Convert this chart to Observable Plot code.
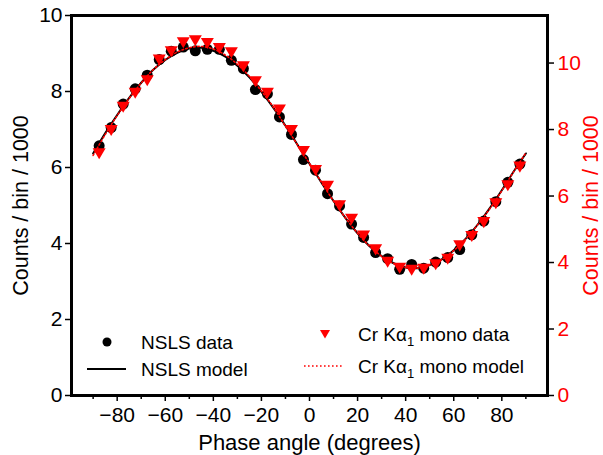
<!DOCTYPE html>
<html><head><meta charset="utf-8">
<script src="https://cdn.jsdelivr.net/npm/d3@7"></script>
<script src="https://cdn.jsdelivr.net/npm/@observablehq/plot@0.6"></script>
<style>
body{margin:0;background:#fff;}
#wrap{position:relative;width:603px;height:455px;overflow:hidden;}
#legend{position:absolute;left:0;top:0;pointer-events:none;}
</style></head><body><div id="wrap"></div>
<script>
// Measured data points (phase angle in degrees)
const dataPhase = [-87.5,-82.5,-77.5,-72.5,-67.5,-62.5,-57.5,-52.5,-47.5,-42.5,-37.5,-32.5,-27.5,-22.5,-17.5,-12.5,-7.5,-2.5,2.5,7.5,12.5,17.5,22.5,27.5,32.5,37.5,42.5,47.5,52.5,57.5,62.5,67.5,72.5,77.5,82.5,87.5];
// NSLS data (left axis, counts / bin / 1000)
const nslsData = [6.57,7.05,7.67,8.07,8.43,8.84,9.06,9.17,9.07,9.11,9.11,8.82,8.60,8.05,7.94,7.33,6.87,6.21,5.93,5.31,4.99,4.51,4.16,3.76,3.60,3.32,3.45,3.35,3.51,3.63,3.84,4.23,4.59,5.10,5.61,6.09];
// Cr Kα1 mono data (right axis, counts / bin / 1000)
const crData = [7.27,7.97,8.67,9.09,9.47,10.09,10.34,10.61,10.67,10.59,10.44,10.31,9.89,9.44,9.09,8.59,7.97,7.34,6.77,6.29,5.71,5.30,4.80,4.38,4.01,3.83,3.77,3.80,3.93,4.10,4.50,4.78,5.20,5.77,6.31,6.87];
// Model curves
const modelPhase = [-90,-85,-80,-75,-70,-65,-60,-55,-50,-45,-40,-35,-30,-25,-20,-15,-10,-5,0,5,10,15,20,25,30,35,40,45,50,55,60,65,70,75,80,85,90];
const nslsModel = [6.37,6.90,7.38,7.83,8.23,8.57,8.83,9.02,9.13,9.15,9.07,8.92,8.68,8.37,7.99,7.57,7.10,6.60,6.10,5.60,5.12,4.67,4.27,3.93,3.67,3.48,3.37,3.35,3.43,3.58,3.82,4.13,4.50,4.93,5.40,5.90,6.37];
const crModel = [7.22,7.85,8.42,8.94,9.40,9.80,10.10,10.33,10.46,10.50,10.42,10.24,9.96,9.60,9.16,8.67,8.10,7.54,6.98,6.41,5.85,5.34,4.88,4.49,4.19,3.97,3.85,3.83,3.92,4.09,4.36,4.71,5.14,5.62,6.16,6.74,7.30];
// Ticks
const leftTicks = [0,2,4,6,8,10];
const rightTicks = [0,2,4,6,8,10];
const xMajorTicks = [-80,-60,-40,-20,0,20,40,60,80];
const xMinorTicks = [-90,-70,-50,-30,-10,10,30,50,70,90];
const xDomain = [-99,99];
const leftMax = 10, rightMax = 11.43;
const k = leftMax / rightMax;

const triDown = {draw(ctx, size){
  const r = Math.sqrt(size/Math.PI), h = r*0.85;
  ctx.moveTo(-r,-h); ctx.lineTo(r,-h); ctx.lineTo(0,h); ctx.closePath();
}};

const pts = dataPhase.map((x,i)=>({x, nsls:nslsData[i], cr:crData[i]}));
const model = modelPhase.map((x,i)=>({x, nsls:nslsModel[i], cr:crModel[i]}));
const font = "'Liberation Sans', Arial, sans-serif";

const plot = Plot.plot({
  width:603, height:455, marginLeft:71, marginRight:56, marginTop:15, marginBottom:60,
  style:{fontFamily:font, fontSize:"21px", background:"white", overflow:"visible", color:"black"},
  x:{domain:xDomain, axis:null},
  y:{domain:[0,leftMax], axis:null},
  marks:[
    Plot.dot(pts,{x:"x", y:"nsls", r:5.5, fill:"black", stroke:"none"}),
    Plot.line(model,{x:"x", y:"nsls", stroke:"black", strokeWidth:2, curve:"catmull-rom"}),
    Plot.dot(pts,{x:"x", y:d=>d.cr*k, r:6.5, symbol:triDown, fill:"red", stroke:"none"}),
    Plot.line(model,{x:"x", y:d=>d.cr*k, stroke:"red", strokeWidth:1.6, strokeDasharray:"1.6,2.4", curve:"catmull-rom"}),
    Plot.axisX(xMinorTicks,{tickSize:4, strokeWidth:1.5, tickFormat:()=>"", label:null}),
    Plot.axisX(xMajorTicks,{tickSize:6, strokeWidth:1.5, tickPadding:6, label:null, fontSize:21}),
    Plot.axisY(leftTicks,{anchor:"left", tickSize:6, strokeWidth:1.5, tickPadding:3, label:null, fontSize:21}),
    Plot.axisY(rightTicks,{anchor:"right", y:d=>d*k, tickSize:6, strokeWidth:1.5, tickFormat:()=>"", label:null}),
    Plot.axisY(rightTicks,{anchor:"right", y:d=>d*k, tickSize:0, tickPadding:10, tickFormat:d=>String(d), fill:"red", color:"red", label:null, fontSize:21}),
    Plot.text(["Phase angle (degrees)"],{frameAnchor:"bottom", lineAnchor:"middle", dy:47, fontSize:22, fill:"black"}),
    Plot.text(["Counts / bin / 1000"],{frameAnchor:"left", lineAnchor:"middle", dx:-50, rotate:-90, textAnchor:"middle", fontSize:21.5, fill:"black"}),
    Plot.text(["Counts / bin / 1000"],{frameAnchor:"right", lineAnchor:"middle", dx:44, rotate:-90, textAnchor:"middle", fontSize:21.5, fill:"red"}),
    Plot.frame({stroke:"black", strokeWidth:3})
  ]
});
const wrap = document.getElementById("wrap");
wrap.appendChild(plot);

// Legend overlay
const lg = d3.select(wrap).append("svg").attr("id","legend").attr("width",603).attr("height",455)
  .style("font-family",font).style("font-size","19px");
lg.append("circle").attr("cx",107).attr("cy",342).attr("r",4.5).attr("fill","black");
lg.append("text").attr("x",141).attr("y",342).attr("dy","0.35em").text("NSLS data");
lg.append("line").attr("x1",87).attr("x2",126).attr("y1",369).attr("y2",369).attr("stroke","black").attr("stroke-width",2);
lg.append("text").attr("x",141).attr("y",369).attr("dy","0.35em").text("NSLS model");
lg.append("path").attr("d","M320,330 L330,330 L325,338.5 Z").attr("fill","red");
lg.append("line").attr("x1",304).attr("x2",343).attr("y1",366).attr("y2",366).attr("stroke","red").attr("stroke-width",1.6).attr("stroke-dasharray","1.6,2.4");
function crLabel(y, tail){
  const t = lg.append("text").attr("x",358).attr("y",y).attr("dy","0.35em");
  t.append("tspan").text("Cr K\u03b1");
  t.append("tspan").attr("dy","5").style("font-size","13px").text("1");
  t.append("tspan").attr("dy","-5").text(" " + tail);
}
crLabel(334, "mono data");
crLabel(366, "mono model");
</script></body></html>
